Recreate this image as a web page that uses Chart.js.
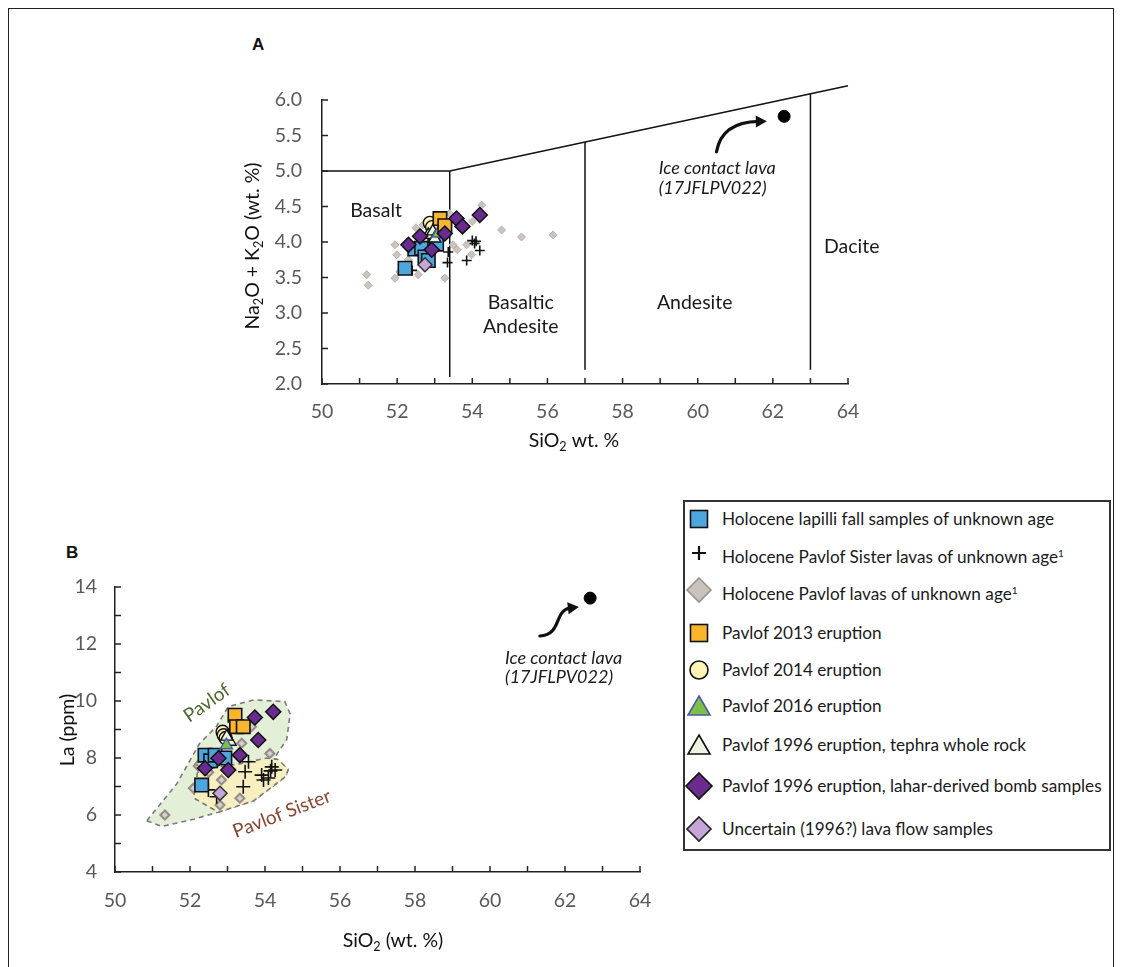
<!DOCTYPE html>
<html lang="en">
<head>
<meta charset="UTF-8">
<title>Pavlof TAS and La plots</title>
<script src="https://cdn.jsdelivr.net/npm/chart.js"></script>
<style>
* { margin: 0; padding: 0; }
body { width: 1122px; height: 967px; background: #fff; position: relative; overflow: hidden; font-family: Lato, sans-serif; }
#frame { position: absolute; left: 8px; top: 8px; width: 1104px; height: 1000px; border: 1px solid #222; }
.plot { position: absolute; left: 0; }
#legend { position: absolute; left: 683px; top: 500px; width: 424px; height: 347px; border: 2px solid #333; background: #fff; }
.row { position: absolute; left: 0; height: 30px; width: 420px; }
.row svg { position: absolute; left: -1px; top: 0; }
.row span { position: absolute; left: 37px; top: 0; line-height: 30px; font-size: 17.2px; color: #1a1a1a; white-space: nowrap; }
.row sup { font-size: 10px; vertical-align: 6px; }
.panel { position: absolute; font: bold 17px "Liberation Sans", Arial, sans-serif; color: #111; }
</style>
</head>
<body>
<div id="frame"></div>
<div class="panel" style="left:252px;top:35px">A</div>
<div class="panel" style="left:66px;top:543px">B</div>
<canvas id="tas" class="plot" width="1122" height="470" style="top:0"></canvas>
<canvas id="la" class="plot" width="1122" height="487" style="top:480px"></canvas>
<div id="legend"></div>
<script>
// ---- panel A: total alkali vs silica (SiO2, Na2O+K2O) ----
const tasLapilli = [[52.21,3.63],[52.47,3.9],[52.65,3.91],[52.74,3.79],[52.83,3.74],[53.0,4.02],[53.05,3.97]];
const tasSister = [[52.4,3.6],[53.36,3.86],[53.34,3.71],[53.85,3.74],[54.0,4.02],[54.06,3.98],[54.1,4.01],[54.2,3.88]];
const tasPavlof = [[51.19,3.54],[51.23,3.39],[51.94,3.49],[51.94,3.96],[51.99,3.82],[52.07,3.58],[52.56,3.54],
  [53.27,3.49],[52.69,4.24],[53.4,4.4],[53.49,3.96],[53.6,3.89],[53.85,3.96],[53.98,3.82],[54.0,4.29],
  [54.25,4.52],[54.78,4.17],[55.31,4.07],[56.15,4.1],[52.5,4.2],[52.3,3.75]];
const tas2013 = [[53.14,4.33],[53.27,4.23]];
const tas2014 = [[52.87,4.27],[52.93,4.21]];
const tas2016 = [[53.09,4.12]];
const tasTephra = [[52.83,4.1],[52.95,4.15],[53.0,4.05]];
const tasBomb = [[52.3,3.96],[52.61,4.08],[52.92,3.89],[53.27,4.12],[53.58,4.33],[53.74,4.22],[54.2,4.38]];
const tasUncertain = [[52.74,3.68]];
const tasIceLava = [[62.3,5.77]];
const tasBoundaries = [
  [[50,5.0],[53.4,5.0],[64,6.2]],
  [[53.4,5.0],[53.4,2.1]],
  [[57,5.41],[57,2.2]],
  [[63,6.09],[63,2.2]]
];
const tasArrow = [[60.5,5.27],[60.64,5.69],[61.84,5.70]];

// ---- panel B: La vs SiO2 ----
const laLapilli = [[52.4,8.1],[52.55,7.9],[52.67,8.1],[52.93,8.0],[52.31,7.05]];
const laSister = [[53.56,7.87],[53.47,7.52],[53.42,6.99],[53.91,7.4],[53.96,7.23],[54.09,7.3],[54.18,7.69],
  [54.27,7.58],[54.15,7.55],[52.71,6.64],[52.49,6.88]];
const laPavlof = [[51.33,6.0],[52.09,6.94],[52.22,7.72],[52.27,7.81],[52.84,7.23],[52.8,6.35],[53.33,6.59],
  [53.38,8.52],[53.64,9.1],[54.13,8.16],[52.5,7.5]];
const la2013 = [[53.2,9.5],[53.24,9.1],[53.42,9.1]];
const la2014 = [[52.87,8.92],[52.9,8.8],[52.95,8.7]];
const la2016 = [[52.97,8.45]];
const laTephra = [[53.07,8.57],[52.98,8.75]];
const laBomb = [[53.73,9.42],[54.22,9.62],[53.82,8.63],[53.33,8.1],[52.76,7.99],[52.4,7.64],[53.02,7.58]];
const laUncertain = [[52.8,6.76]];
const laIceLava = [[62.67,13.61]];
const pavlofField = [[50.85,5.8],[51.25,5.6],[52.1,5.85],[52.75,6.1],[53.7,6.5],[54.55,7.35],[54.62,7.6],
  [54.25,8.0],[54.58,8.65],[54.67,9.55],[54.53,9.98],[53.7,10.04],[53.02,9.8],[52.7,9.1],[52.25,8.5],
  [51.65,7.1],[50.85,5.8]];
const sisterField = [[52.2,7.5],[52.1,6.6],[52.75,6.1],[53.7,6.5],[54.55,7.35],[54.62,7.6],[54.35,7.95],
  [54.05,8.0],[53.35,7.8],[52.6,7.65],[52.2,7.5]];
const laArrow = [[61.33,12.28],[61.95,12.35],[61.68,13.19],[62.37,13.3]];

const legendLabels = ['Holocene lapilli fall samples of unknown age', 'Holocene Pavlof Sister lavas of unknown age',
  'Holocene Pavlof lavas of unknown age', 'Pavlof 2013 eruption', 'Pavlof 2014 eruption', 'Pavlof 2016 eruption',
  'Pavlof 1996 eruption, tephra whole rock', 'Pavlof 1996 eruption, lahar-derived bomb samples',
  'Uncertain (1996?) lava flow samples'];
const legendNote = [false, true, true, false, false, false, false, false, false];

const C = {
  blue: '#4ea6df', orange: '#fbb52c', yellow: '#fff3b6', green: '#7cc04a', pale: '#edf4e2',
  purple: '#6a2b8f', lilac: '#c4a6d8', gray: '#cbc4c0', ink: '#111'
};

function pts(arr) { return arr.map(p => ({x: p[0], y: p[1]})); }

function series(arr, style, order) {
  return {
    data: pts(arr), order: order, showLine: false,
    pointStyle: style.shape, pointRadius: style.r, pointHoverRadius: style.r,
    pointBackgroundColor: style.fill, pointBorderColor: style.line, pointBorderWidth: style.w
  };
}

function lineSet(arr, order) {
  return { data: pts(arr), order: order, showLine: true, pointRadius: 0, borderColor: '#111', borderWidth: 1.5, clip: false };
}

function field(arr, fill, order) {
  return { data: pts(arr), order: order, showLine: true, fill: 'shape', backgroundColor: fill,
    borderColor: '#7b7b7b', borderWidth: 1.6, borderDash: [5, 4], pointRadius: 0 };
}

function axis(min, max, step, dec, pad, size) {
  return {
    type: 'linear', min: min, max: max,
    ticks: { stepSize: step, color: '#595959', padding: pad, font: { family: 'Lato', size: 19.5 },
      callback: v => v.toFixed(dec) },
    grid: { display: false, drawTicks: false },
    border: { display: true, color: '#222', width: 1.5 },
    afterFit: s => { if (s.isHorizontal()) s.height = size; else s.width = size; }
  };
}

// text with subscripts: parts = [[text, isSub], ...]
function drawRich(ctx, parts, x, y, size, angle) {
  ctx.save();
  ctx.translate(x, y);
  ctx.rotate(angle || 0);
  ctx.fillStyle = '#111';
  ctx.textBaseline = 'middle';
  ctx.textAlign = 'left';
  let total = 0;
  parts.forEach(p => { ctx.font = (p[1] ? size * 0.65 : size) + 'px Lato'; total += ctx.measureText(p[0]).width; });
  let cx = -total / 2;
  parts.forEach(p => {
    ctx.font = (p[1] ? size * 0.65 : size) + 'px Lato';
    ctx.fillText(p[0], cx, p[1] ? size * 0.3 : 0);
    cx += ctx.measureText(p[0]).width;
  });
  ctx.restore();
}

function drawArrow(ctx, sx, sy, arr) {
  const p = arr.map(q => [sx.getPixelForValue(q[0]), sy.getPixelForValue(q[1])]);
  const end = p[p.length - 1], prev = p[p.length - 2];
  let dx = end[0] - prev[0], dy = end[1] - prev[1];
  const len = Math.hypot(dx, dy); dx /= len; dy /= len;
  const stop = [end[0] - dx * 8, end[1] - dy * 8];
  ctx.save();
  ctx.strokeStyle = '#111'; ctx.fillStyle = '#111'; ctx.lineWidth = 3.2; ctx.lineCap = 'round';
  ctx.beginPath();
  ctx.moveTo(p[0][0], p[0][1]);
  if (p.length === 3) ctx.quadraticCurveTo(p[1][0], p[1][1], stop[0], stop[1]);
  else ctx.bezierCurveTo(p[1][0], p[1][1], p[2][0], p[2][1], stop[0], stop[1]);
  ctx.stroke();
  ctx.beginPath();
  ctx.moveTo(end[0], end[1]);
  ctx.lineTo(end[0] - dx * 11 - dy * 6, end[1] - dy * 11 + dx * 6);
  ctx.lineTo(end[0] - dx * 11 + dy * 6, end[1] - dy * 11 - dx * 6);
  ctx.closePath();
  ctx.fill();
  ctx.restore();
}

function overlay(cfg) {
  return {
    id: 'overlay',
    afterDraw(chart) {
      const ctx = chart.ctx, sx = chart.scales.x, sy = chart.scales.y, a = chart.chartArea;
      ctx.save();
      // inward tick marks
      ctx.strokeStyle = '#222'; ctx.lineWidth = 1.5;
      for (let v = sx.min; v <= sx.max + 1e-9; v += cfg.xMinor) {
        const px = sx.getPixelForValue(v);
        ctx.beginPath(); ctx.moveTo(px, a.bottom); ctx.lineTo(px, a.bottom - 6); ctx.stroke();
      }
      for (let v = sy.min; v <= sy.max + 1e-9; v += cfg.yMinor) {
        const py = sy.getPixelForValue(v);
        ctx.beginPath(); ctx.moveTo(a.left, py); ctx.lineTo(a.left + 6, py); ctx.stroke();
      }
      // region / annotation labels
      cfg.texts.forEach(t => {
        ctx.save();
        ctx.translate(sx.getPixelForValue(t.x), sy.getPixelForValue(t.y));
        ctx.rotate((t.rot || 0) * Math.PI / 180);
        ctx.font = (t.italic ? 'italic ' : '') + t.size + 'px Lato';
        ctx.fillStyle = t.color || '#1a1a1a';
        ctx.textAlign = t.align || 'center';
        ctx.textBaseline = 'middle';
        ctx.fillText(t.t, 0, 0);
        ctx.restore();
      });
      drawArrow(ctx, sx, sy, cfg.arrow);
      drawRich(ctx, cfg.xTitle, cfg.xTitlePos[0], cfg.xTitlePos[1], 19.5, 0);
      drawRich(ctx, cfg.yTitle, cfg.yTitlePos[0], cfg.yTitlePos[1], 19.5, -Math.PI / 2);
      ctx.restore();
    }
  };
}

const S = {
  lapilli: { shape: 'rect', r: 9.5, fill: C.blue, line: C.ink, w: 1.6 },
  sisterA: { shape: 'cross', r: 5, fill: C.ink, line: C.ink, w: 1.6 },
  sisterB: { shape: 'cross', r: 7, fill: C.ink, line: C.ink, w: 1.6 },
  pavlofA: { shape: 'rectRot', r: 4, fill: C.gray, line: '#b8b1ac', w: 1 },
  pavlofB: { shape: 'rectRot', r: 4.5, fill: '#d6d0cc', line: '#958c87', w: 2 },
  e2013: { shape: 'rect', r: 9.5, fill: C.orange, line: C.ink, w: 1.6 },
  e2014: { shape: 'circle', r: 6.5, fill: C.yellow, line: C.ink, w: 1.4 },
  e2016: { shape: 'triangle', r: 7, fill: C.green, line: '#4d58a6', w: 1.4 },
  tephra: { shape: 'triangle', r: 7, fill: C.pale, line: C.ink, w: 1.4 },
  bomb: { shape: 'rectRot', r: 7.5, fill: C.purple, line: C.ink, w: 1.5 },
  uncertain: { shape: 'rectRot', r: 7, fill: C.lilac, line: '#333', w: 1.5 },
  ice: { shape: 'circle', r: 6, fill: '#000', line: '#000', w: 1 }
};

const baseOptions = (pad, xAx, yAx) => ({
  responsive: false, animation: false, devicePixelRatio: 1,
  layout: { padding: pad },
  plugins: { legend: { display: false }, tooltip: { enabled: false } },
  scales: { x: xAx, y: yAx }
});

new Chart(document.getElementById('tas'), {
  type: 'scatter',
  data: {
    datasets: [
      ...tasBoundaries.map(b => lineSet(b, 15)),
      series(tasPavlof, S.pavlofA, 12),
      series(tasSister, S.sisterA, 11),
      series(tasLapilli, S.lapilli, 10),
      series(tas2014, S.e2014, 9),
      series(tasTephra, S.tephra, 8),
      series(tas2016, S.e2016, 7),
      series(tas2013, S.e2013, 6),
      series(tasBomb, S.bomb, 5),
      series(tasUncertain, S.uncertain, 4),
      series(tasIceLava, S.ice, 1)
    ]
  },
  options: baseOptions({ left: 262, top: 100, right: 274, bottom: 46 },
    axis(50, 64, 2, 0, 16, 40), axis(2, 6, 0.5, 1, 20, 60)),
  plugins: [overlay({
    xMinor: 1, yMinor: 0.5,
    texts: [
      { t: 'Basalt', x: 51.44, y: 4.44, size: 19.5 },
      { t: 'Basaltic', x: 55.29, y: 3.14, size: 19.5 },
      { t: 'Andesite', x: 55.29, y: 2.80, size: 19.5 },
      { t: 'Andesite', x: 59.92, y: 3.14, size: 19.5 },
      { t: 'Dacite', x: 64.1, y: 3.94, size: 19.5 },
      { t: 'Ice contact lava', x: 58.96, y: 5.04, size: 18, italic: true, align: 'left' },
      { t: '(17JFLPV022)', x: 58.96, y: 4.76, size: 18, italic: true, align: 'left' }
    ],
    arrow: tasArrow,
    xTitle: [['SiO'], ['2', 1], [' wt. %']], xTitlePos: [574, 441],
    yTitle: [['Na'], ['2', 1], ['O + K'], ['2', 1], ['O (wt. %)']], yTitlePos: [253, 246]
  })]
});

new Chart(document.getElementById('la'), {
  type: 'scatter',
  data: {
    datasets: [
      field(pavlofField, '#e3efd6', 20),
      field(sisterField, '#f7efc0', 19),
      series(laPavlof, S.pavlofB, 12),
      series(laSister, S.sisterB, 11),
      series(laLapilli, S.lapilli, 10),
      series(la2014, S.e2014, 9),
      series(laTephra, S.tephra, 8),
      series(la2016, S.e2016, 7),
      series(la2013, S.e2013, 6),
      series(laBomb, S.bomb, 5),
      series(laUncertain, S.uncertain, 4),
      series(laIceLava, S.ice, 1)
    ]
  },
  options: baseOptions({ left: 55, top: 107, right: 482, bottom: 55 },
    axis(50, 64, 2, 0, 17, 40), axis(4, 14, 2, 0, 18, 60)),
  plugins: [overlay({
    xMinor: 1, yMinor: 1,
    texts: [
      { t: 'Pavlof', x: 52.45, y: 9.93, size: 19, rot: -35, color: '#4d6a2e' },
      { t: 'Pavlof Sister', x: 54.45, y: 6.04, size: 19, rot: -21, color: '#8a4630' },
      { t: 'Ice contact lava', x: 60.4, y: 11.51, size: 18, italic: true, align: 'left' },
      { t: '(17JFLPV022)', x: 60.4, y: 10.84, size: 18, italic: true, align: 'left' }
    ],
    arrow: laArrow,
    xTitle: [['SiO'], ['2', 1], [' (wt. %)']], xTitlePos: [393, 461],
    yTitle: [['La (ppm)']], yTitlePos: [68, 250]
  })]
});

// legend box
function marker(i) {
  const st = 'stroke-width="1.6"';
  switch (i) {
    case 0: return `<rect x="6.5" y="6.5" width="17" height="17" fill="${C.blue}" stroke="#111" ${st}/>`;
    case 1: return `<path d="M15 8 V22 M8 15 H22" stroke="#111" stroke-width="2.2"/>`;
    case 2: return `<path d="M15 3 L27 15 L15 27 L3 15 Z" fill="#c9c2bd" stroke="#9b938e" ${st}/>`;
    case 3: return `<rect x="6.5" y="6.5" width="17" height="17" fill="${C.orange}" stroke="#111" ${st}/>`;
    case 4: return `<circle cx="15" cy="15" r="9" fill="${C.yellow}" stroke="#111" ${st}/>`;
    case 5: return `<path d="M15 5 L26 24 L4 24 Z" fill="${C.green}" stroke="#4d58a6" ${st}/>`;
    case 6: return `<path d="M15 5 L26 24 L4 24 Z" fill="${C.pale}" stroke="#111" ${st}/>`;
    case 7: return `<path d="M15 2 L28 15 L15 28 L2 15 Z" fill="${C.purple}" stroke="#111" ${st}/>`;
    default: return `<path d="M15 3 L27 15 L15 27 L3 15 Z" fill="${C.lilac}" stroke="#222" ${st}/>`;
  }
}
const rowTops = [19, 53, 90, 133, 170, 206, 245, 286, 329];
const legend = document.getElementById('legend');
legendLabels.forEach((lab, i) => {
  const row = document.createElement('div');
  row.className = 'row';
  row.style.top = (rowTops[i] - 17) + 'px';
  row.innerHTML = `<svg width="30" height="30" viewBox="0 0 30 30">${marker(i)}</svg>` +
    `<span>${lab}${legendNote[i] ? '<sup>1</sup>' : ''}</span>`;
  legend.appendChild(row);
});
</script>
</body>
</html>
